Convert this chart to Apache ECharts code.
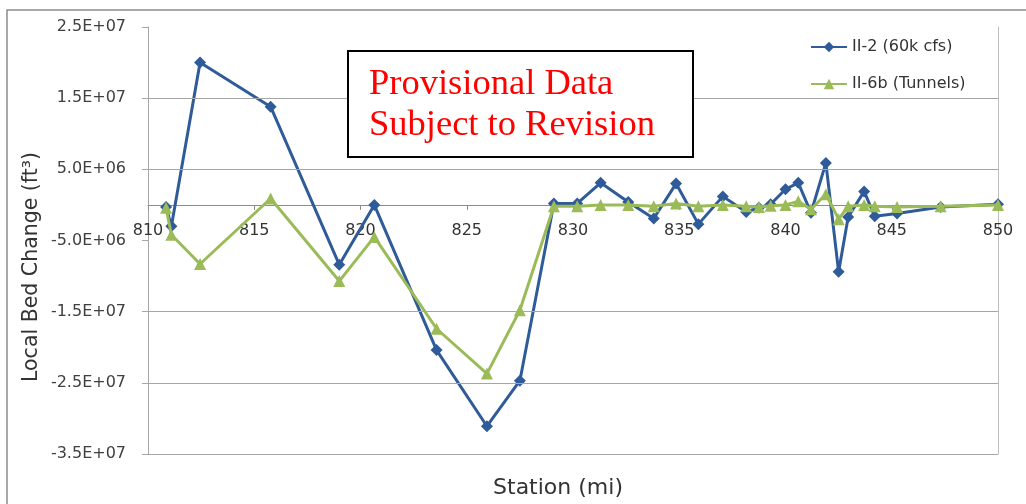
<!DOCTYPE html>
<html>
<head>
<meta charset="utf-8">
<script src="https://cdn.jsdelivr.net/npm/echarts@6/dist/echarts.min.js"></script>
<style>
html,body{margin:0;padding:0;background:#fff;}
#c{width:1026px;height:504px;}
</style>
</head>
<body>
<div id="c"></div>
<script>
// Station (mi)
const stations = [810.85, 811.1, 812.45, 815.77, 819.0, 820.65, 823.58, 825.95, 827.5, 829.1, 830.2, 831.3, 832.6, 833.8, 834.85, 835.9, 837.05, 838.15, 838.75, 839.3, 840.0, 840.6, 841.2, 841.9, 842.5, 842.95, 843.7, 844.2, 845.25, 847.3, 850.0];
// Local bed change, ft^3
const seriesII2 = [-0.3e6, -3.0e6, 20.0e6, 13.8e6, -8.4e6, 0.0e6, -20.4e6, -31.1e6, -24.7e6, 0.2e6, 0.2e6, 3.1e6, 0.4e6, -1.9e6, 3.0e6, -2.7e6, 1.2e6, -1.0e6, -0.4e6, 0.1e6, 2.2e6, 3.1e6, -1.1e6, 5.9e6, -9.4e6, -1.7e6, 1.9e6, -1.6e6, -1.2e6, -0.3e6, 0.1e6];
const seriesII6b = [-0.4e6, -4.2e6, -8.3e6, 0.9e6, -10.7e6, -4.5e6, -17.4e6, -23.7e6, -14.8e6, -0.2e6, -0.2e6, 0.0, 0.0, -0.2e6, 0.2e6, -0.2e6, 0.0, -0.2e6, -0.3e6, -0.1e6, 0.0, 0.5e6, -0.6e6, 1.5e6, -2.0e6, -0.2e6, 0.0, -0.2e6, -0.3e6, -0.2e6, 0.0];
const seriesNames = ['II-2 (60k cfs)', 'II-6b (Tunnels)'];
const xTicks = {min: 810, max: 850, step: 5};
const yTicks = {min: -3.5e7, max: 2.5e7, step: 1e7};
// horizontal gridlines visible in the reference
const yGridValues = [1.5e7, 5e6, -1.5e7, -2.5e7, -3.5e7];

function sci(v) {
  const s = Number(v).toExponential(1);
  const m = s.match(/^(-?[\d.]+)e([+-])(\d+)$/);
  return m[1] + 'E' + m[2] + (m[3].length < 2 ? '0' + m[3] : m[3]);
}

const font = '"DejaVu Sans", sans-serif';
const gridCol = '#a6a6a6';
const chart = echarts.init(document.getElementById('c'), null, {renderer: 'canvas'});
function build(xOffset) {
  return {
    animation: false,
    backgroundColor: '#fff',
    grid: {left: 148, right: 28, top: 27, bottom: 50, containLabel: false},
    legend: {
      orient: 'vertical', left: 805, top: 34,
      itemWidth: 36, itemHeight: 13, itemGap: 21,
      textStyle: {fontFamily: font, fontSize: 16, color: '#333'},
      data: seriesNames
    },
    xAxis: {
      type: 'value', min: xTicks.min, max: xTicks.max, interval: xTicks.step,
      offset: xOffset,
      axisLine: {show: true, onZero: false, lineStyle: {color: '#8c8c8c', width: 1}},
      axisTick: {show: true, length: 5, lineStyle: {color: '#8c8c8c'}},
      axisLabel: {fontFamily: font, fontSize: 16, color: '#333', margin: 18},
      splitLine: {show: false}
    },
    yAxis: [{
      type: 'value', min: yTicks.min, max: yTicks.max, interval: yTicks.step,
      axisLine: {show: true, onZero: false, lineStyle: {color: '#a6a6a6'}},
      axisTick: {show: true, length: 6, lineStyle: {color: '#a6a6a6'}},
      axisLabel: {fontFamily: font, fontSize: 16, color: '#404040', margin: 22, formatter: sci},
      splitLine: {show: false}
    }, {
      type: 'value', position: 'right', min: yTicks.min, max: yTicks.max, interval: yTicks.step,
      axisLine: {show: true, onZero: false, lineStyle: {color: '#bdbdbd'}},
      axisTick: {show: false}, axisLabel: {show: false}, splitLine: {show: false}
    }],
    series: [{
      name: 'grid', type: 'line', data: [], z: 1, silent: true,
      markLine: {
        silent: true, symbol: ['none', 'none'], animation: false,
        label: {show: false},
        lineStyle: {color: gridCol, type: 'solid', width: 1},
        data: yGridValues.map(v => ({yAxis: v}))
      }
    }, {
      name: seriesNames[0], type: 'line', yAxisIndex: 0,
      data: stations.map((s, i) => [s, seriesII2[i]]),
      symbol: 'diamond', symbolSize: 12, showAllSymbol: true,
      lineStyle: {color: '#2f5b98', width: 3},
      itemStyle: {color: '#2f5b98'},
      z: 3
    }, {
      name: seriesNames[1], type: 'line', yAxisIndex: 0,
      data: stations.map((s, i) => [s, seriesII6b[i]]),
      symbol: 'triangle', symbolSize: 12, showAllSymbol: true,
      lineStyle: {color: '#9bbb59', width: 3},
      itemStyle: {color: '#9bbb59'},
      z: 4
    }],
    graphic: [
      {type: 'rect', shape: {x: 7, y: 10, width: 1040, height: 520}, style: {fill: 'none', stroke: '#8c8c8c', lineWidth: 1.5}, z: -10, silent: true},
      {type: 'text', x: 32, y: 267, rotation: Math.PI / 2,
       style: {text: 'Local Bed Change (ft³)', fontFamily: font, fontSize: 20.5, fill: '#333', align: 'center', verticalAlign: 'middle'}},
      {type: 'text', x: 558, y: 488,
       style: {text: 'Station (mi)', fontFamily: font, fontSize: 22, fill: '#333', align: 'center', verticalAlign: 'middle'}},
      {type: 'rect', shape: {x: 348, y: 51, width: 345, height: 106}, style: {fill: '#fff', stroke: '#000', lineWidth: 2}, z: 100},
      {type: 'text', x: 369, y: 64, z: 101,
       style: {text: 'Provisional Data\nSubject to Revision', fontFamily: '"Liberation Serif", "Times New Roman", serif', fontSize: 36.5, lineHeight: 41, fill: '#ff0000', align: 'left', verticalAlign: 'top'}}
    ]
  };
}
chart.setOption(build(0));
const zeroPx = chart.convertToPixel({yAxisIndex: 0}, 0);
const minPx = chart.convertToPixel({yAxisIndex: 0}, yTicks.min);
chart.setOption(build(-(minPx - zeroPx)));
</script>
</body>
</html>
